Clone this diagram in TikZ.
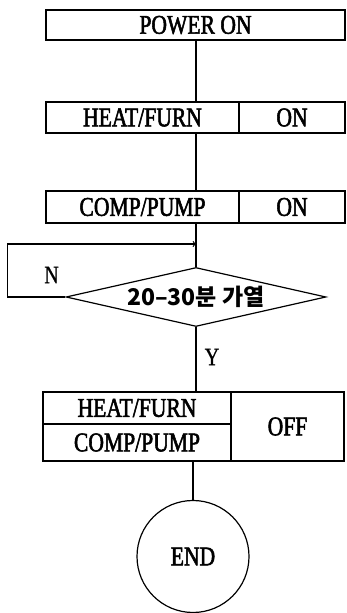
\documentclass[tikz,border=0pt]{standalone}
\usepackage{fontspec}
\setmainfont{Liberation Serif}
\newfontfamily\boxfont[FakeStretch=0.8,FakeBold=2]{Liberation Serif}
\newfontfamily\ynfont[FakeStretch=0.8,FakeBold=0.8]{Liberation Serif}
\newfontfamily\kofont{Noto Sans CJK KR}
\usetikzlibrary{shapes.geometric}
\begin{document}
\begin{tikzpicture}[x=1pt,y=1pt,line width=1.2pt,
  cell/.style={draw,inner sep=0pt,font=\boxfont\fontsize{27}{27}\selectfont},
  yn/.style={font=\ynfont\fontsize{25}{25}\selectfont}]
\useasboundingbox (0,0) rectangle (346,613);
\coordinate (spine) at (196,0);
\node[cell,minimum width=299pt,minimum height=30pt] (power) at (195.5,588) {POWER ON};
% ON
\node[cell,minimum width=193pt,minimum height=31pt] (heat) at (142.5,495.5) {HEAT/FURN};
\node[cell,minimum width=106pt,minimum height=31pt] (heaton) at (292,495.5) {ON};
\node[cell,minimum width=193pt,minimum height=32pt] (comp) at (142.5,406) {COMP/PUMP};
\node[cell,minimum width=106pt,minimum height=32pt] (compon) at (292,406) {ON};
% check
\node[draw,diamond,aspect=4.4,inner sep=0pt,minimum width=260pt,minimum height=59pt,
  font=\kofont\bfseries\fontsize{23}{23}\selectfont] (heating) at (196,316) {20–30분 가열};
\coordinate (merge) at (196,369);
\node[yn] (nlabel) at (51.5,338) {N};
\node[yn] (ylabel) at (212,256) {Y};
% OFF
\node[cell,minimum width=188pt,minimum height=32pt] (heatoff) at (137,205) {HEAT/FURN};
\node[cell,minimum width=188pt,minimum height=37pt] (compoff) at (137,170.5) {COMP/PUMP};
\node[cell,minimum width=113pt,minimum height=69pt] (off) at (287.5,186.5) {OFF};
\node[cell,circle,minimum size=112pt] (stop) at (193,56.5) {END};
\draw (power.south -| spine) -- (heat.north -| spine);
\draw (heat.south -| spine) -- (comp.north -| spine);
\draw (comp.south -| spine) -- (heating.north);
\draw[->] (heating.west) -- ++(-58,0) |- (merge);
\draw (heating.south) -- (heatoff.north -| heating.south);
\draw (compoff.south -| stop.north) -- (stop.north);
\end{tikzpicture}
\end{document}
